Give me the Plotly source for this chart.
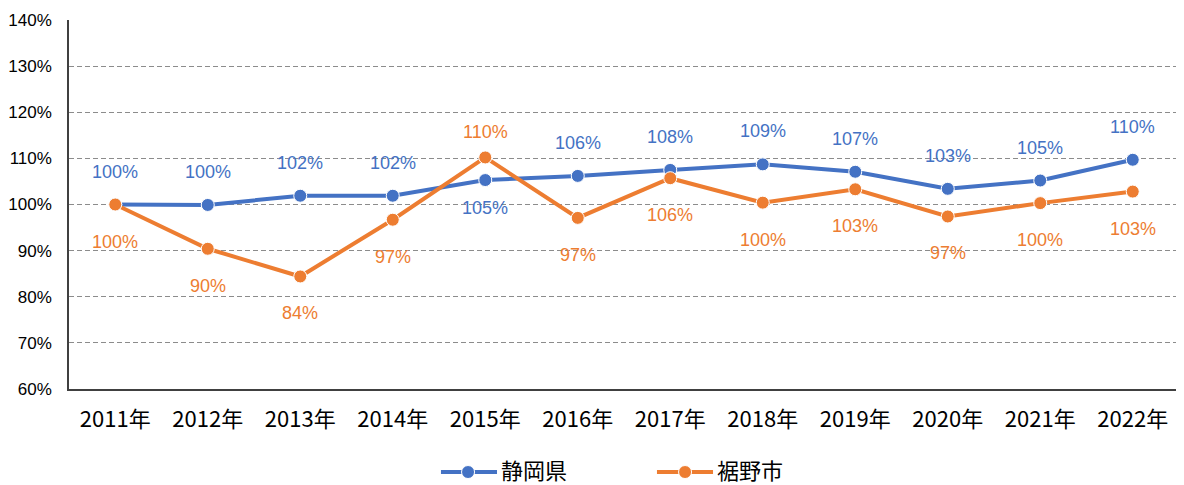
import plotly.graph_objects as go

years = ["2011年", "2012年", "2013年", "2014年", "2015年", "2016年",
         "2017年", "2018年", "2019年", "2020年", "2021年", "2022年"]
shizuoka = [100.0, 99.9, 101.9, 101.9, 105.3, 106.2, 107.5, 108.7, 107.1, 103.4, 105.2, 109.7]
susono = [100.0, 90.4, 84.4, 96.7, 110.2, 97.1, 105.7, 100.4, 103.3, 97.4, 100.3, 102.8]
series_names = ["静岡県", "裾野市"]
# label placement: "above" / "below"
shizuoka_pos = ["above"] * 12
shizuoka_pos[4] = "below"
susono_pos = ["below"] * 12
susono_pos[4] = "above"

BLUE = "#4472C4"
ORANGE = "#ED7D31"

fig = go.Figure()
for name, vals, color in [(series_names[0], shizuoka, BLUE), (series_names[1], susono, ORANGE)]:
    fig.add_trace(go.Scatter(x=years, y=vals, name=name, mode="lines+markers",
                             line=dict(color=color, width=4), showlegend=False,
                             marker=dict(size=13, color=color, line=dict(color="white", width=1))))

annotations = []
for series, poss, color, up, down in [(shizuoka, shizuoka_pos, BLUE, 33, -28),
                                       (susono, susono_pos, ORANGE, 25, -37)]:
    for x, v, p in zip(years, series, poss):
        annotations.append(dict(x=x, y=v, text=f"{round(v)}%", showarrow=False,
                                yshift=up if p == "above" else down,
                                font=dict(family="Liberation Sans, Arial", size=18, color=color),
                                xanchor="center", yanchor="middle"))

# custom legend (paper coordinates)
shapes = []
leg_y = -0.225
for name, color, (lx0, lx1, mx, tx) in [
        (series_names[0], BLUE, (0.3351, 0.3856, 0.3595, 0.3875)),
        (series_names[1], ORANGE, (0.5297, 0.5802, 0.5550, 0.5822))]:
    shapes.append(dict(type="line", xref="paper", yref="paper", x0=lx0, x1=lx1,
                       y0=leg_y, y1=leg_y, line=dict(color=color, width=4)))
    shapes.append(dict(type="circle", xref="paper", yref="paper",
                       xsizemode="pixel", ysizemode="pixel",
                       xanchor=mx, yanchor=leg_y, x0=-6.5, x1=6.5, y0=-6.5, y1=6.5,
                       fillcolor=color, line=dict(color="white", width=1)))
    annotations.append(dict(xref="paper", yref="paper", x=tx, y=leg_y, text=name,
                            showarrow=False, xanchor="left", yanchor="middle", yshift=3,
                            font=dict(family="Noto Sans CJK JP", size=22, color="#000000")))

fig.update_layout(
    width=1176, height=477,
    margin=dict(l=61, r=5, t=12, b=96, autoexpand=False),
    paper_bgcolor="white", plot_bgcolor="white",
    showlegend=False,
    annotations=annotations,
    shapes=shapes,
    xaxis=dict(showline=True, linecolor="#404040", linewidth=1.5, showgrid=False,
               tickfont=dict(family="Noto Sans CJK JP", size=22, color="#000000"),
               ticks="", ticklabelstandoff=10, range=[-0.5, 11.5], automargin=False),
    yaxis=dict(range=[60, 140], dtick=10, ticksuffix="%", showline=True,
               linecolor="#404040", linewidth=1.5,
               showgrid=True, gridcolor="#8C8C8C", gridwidth=1, griddash="5px,3px",
               tickfont=dict(family="Liberation Sans, Arial", size=17, color="#000000"),
               ticks="", ticklabelstandoff=12, zeroline=False, automargin=False),
)

fig.write_html("out.html")
